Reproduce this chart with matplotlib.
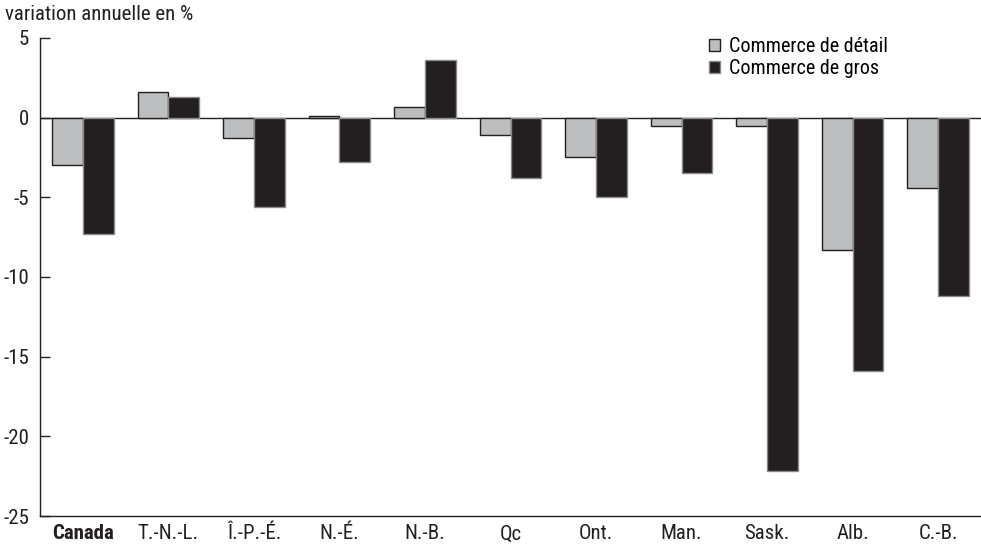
import matplotlib
matplotlib.use("Agg")
import matplotlib.pyplot as plt
import numpy as np
from matplotlib.font_manager import fontManager

names = {f.name for f in fontManager.ttflist}
fam = [n for n in ["Liberation Sans Narrow", "Roboto Condensed", "DejaVu Sans"] if n in names]
plt.rcParams['font.family'] = fam

categories = ["Canada", "T.-N.-L.", "Î.-P.-É.", "N.-É.", "N.-B.", "Qc", "Ont.", "Man.", "Sask.", "Alb.", "C.-B."]
detail = [-3.0, 1.6, -1.3, 0.1, 0.7, -1.1, -2.5, -0.5, -0.5, -8.3, -4.4]
gros = [-7.3, 1.3, -5.6, -2.8, 3.6, -3.8, -5.0, -3.5, -22.2, -15.9, -11.2]
yticks = [5, 0, -5, -10, -15, -20, -25]

fig = plt.figure(figsize=(9.81, 5.46), dpi=100)
ax = fig.add_axes([40/981, 1-516/546, 941/981, (516-38)/546])

x = np.arange(len(categories))
w = 0.36
ax.bar(x - w/2, detail, w, color="#bcbec0", edgecolor="#231f20", linewidth=1.0, label="Commerce de détail", zorder=2)
ax.bar(x + w/2, gros, w, color="#231f20", edgecolor="#8a8a8a", linewidth=1.0, label="Commerce de gros", zorder=2)
ax.axhline(0, color="#231f20", linewidth=1.0, zorder=1)

ax.set_xlim(-0.5, len(categories) - 0.5)
ax.set_ylim(-25, 5)
ax.set_yticks(yticks)
ax.set_yticklabels([str(v) for v in yticks])
ax.set_xticks(x)
ax.set_xticklabels(categories)
for lbl in ax.get_xticklabels():
    if lbl.get_text() == "Canada":
        lbl.set_fontweight("bold")
ax.tick_params(axis='y', direction='in', length=7, width=1, labelsize=15, pad=8, colors="#231f20")
ax.tick_params(axis='x', length=0, labelsize=15, pad=6, colors="#231f20")
for s in ["top", "right"]:
    ax.spines[s].set_visible(False)
for s in ["left", "bottom"]:
    ax.spines[s].set_color("#231f20")
    ax.spines[s].set_linewidth(1.0)

fig.text(5/981, 1-15/546, "variation annuelle en %", fontsize=15, ha="left", va="center", color="#231f20")

leg = ax.legend(loc="upper left", bbox_to_anchor=(661/941, 1.018), frameon=False, fontsize=14.5,
                handlelength=0.55, handleheight=0.55, handletextpad=0.45, labelspacing=0.15, borderaxespad=0.0)
plt.savefig("out.png", dpi=100)
